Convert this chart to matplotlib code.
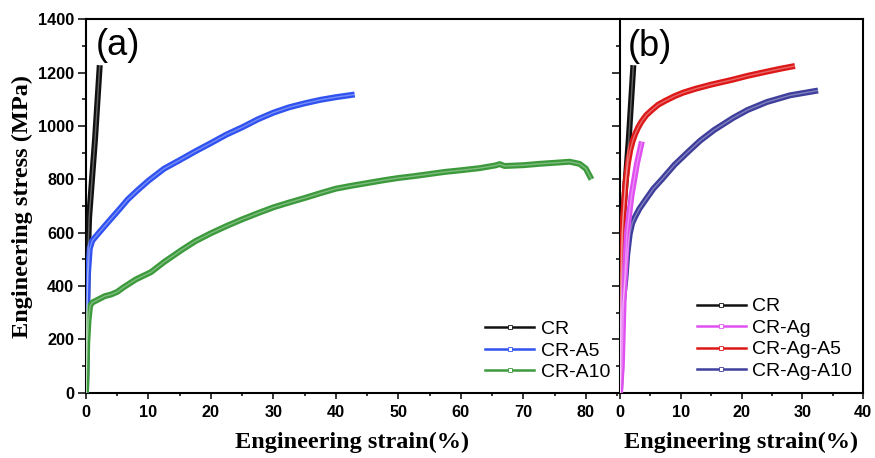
import matplotlib
matplotlib.use("Agg")
import matplotlib.pyplot as plt
from matplotlib.lines import Line2D
from matplotlib.ticker import MultipleLocator

# ---------------- data ----------------
cr_strain = [0, 0.15, 0.35, 0.5, 1.44, 2.2]
cr_stress = [0, 300, 550, 657, 949, 1228]

a5_strain = [0, 0.15, 0.3, 0.6, 1.0, 1.9, 3.0, 4.3, 5.5, 6.7, 8.3, 10, 12.5, 15, 17.5, 20,
             22.5, 25, 27.5, 30, 32.5, 35, 37.5, 40, 43]
a5_stress = [0, 300, 440, 540, 570, 595, 625, 660, 692, 725, 760, 795, 840, 872, 905, 936,
             968, 995, 1025, 1050, 1070, 1085, 1098, 1108, 1118]

a10_strain = [0, 0.2, 0.4, 0.65, 1.0, 2, 3, 4, 5, 6, 8, 10.4, 12.5, 15.3, 17.5, 20, 22.5, 25,
              27.5, 30, 32.5, 35, 37.5, 40, 42.5, 45, 47.5, 50, 52.5, 55, 57.5, 60, 63,
              65.5, 66.2, 67, 70, 72.5, 75, 77.4, 79, 80, 80.9]
a10_stress = [0, 187, 270, 325, 338, 350, 362, 368, 378, 395, 425, 452, 490, 535, 568, 598,
              625, 650, 673, 695, 713, 730, 748, 765, 776, 786, 796, 805, 812, 820, 828,
              834, 842, 852, 857, 850, 853, 858, 862, 866, 858, 840, 800]

ag_strain = [0, 0.3, 0.6, 1.15, 1.9, 2.8, 3.6]
ag_stress = [0, 100, 350, 600, 740, 860, 942]

aga5_strain = [0, 0.05, 0.1, 0.33, 0.9, 1.3, 1.7, 2.1, 2.5, 3.0, 3.5, 4.3, 5.3, 6.3, 7.5, 9,
               10.4, 12.5, 15, 18.6, 21, 24.2, 26.5, 28.8]
aga5_stress = [0, 200, 410, 600, 786, 860, 911, 945, 970, 995, 1015, 1040, 1061, 1080, 1095,
               1112, 1125, 1140, 1155, 1174, 1188, 1204, 1215, 1225]

aga10_strain = [0, 0.1, 0.3, 0.9, 1.2, 1.6, 2.0, 2.5, 3.2, 4.2, 5.5, 6.9, 9, 11.3, 13.2, 15.5,
                18.6, 21, 24.2, 28, 32.6]
aga10_stress = [0, 100, 300, 430, 520, 595, 635, 660, 690, 723, 765, 800, 855, 905, 945, 985,
                1030, 1060, 1090, 1115, 1133]

labels_a = ["CR", "CR-A5", "CR-A10"]
labels_b = ["CR", "CR-Ag", "CR-Ag-A5", "CR-Ag-A10"]

C_CR = "#111111"
C_A5 = "#2f52f0"
C_A10 = "#3c9a3c"
C_AG = "#e050f0"
C_AGA5 = "#dd1818"
C_AGA10 = "#3e3e9c"

# ---------------- figure ----------------
fig = plt.figure(figsize=(8.75, 4.58), dpi=100)
axa = fig.add_axes([86/875, 1-392.7/458, 533/875, 373.4/458])
axb = fig.add_axes([620/875, 1-392.7/458, 243/875, 373.4/458])

tickfont = dict(family="Liberation Sans", weight="bold", size=11.7)
labfont = dict(family="Liberation Serif", weight="bold", size=17.5)


def curve(ax, x, y, c):
    ax.plot(x, y, color=c, lw=4.3, solid_capstyle="butt", solid_joinstyle="round", zorder=3)
    ax.plot(x, y, color="white", lw=1.0, alpha=0.35, zorder=4)


for ax in (axa, axb):
    ax.set_ylim(0, 1400)
    ax.yaxis.set_major_locator(MultipleLocator(200))
    ax.yaxis.set_minor_locator(MultipleLocator(100))
    ax.xaxis.set_major_locator(MultipleLocator(10))
    ax.xaxis.set_minor_locator(MultipleLocator(5))
    ax.tick_params(axis="both", which="both", direction="out", width=1.1,
                   top=False, right=False)
    ax.tick_params(axis="y", which="major", length=5.5, pad=3)
    ax.tick_params(axis="y", which="minor", length=3)
    ax.tick_params(axis="x", which="major", length=4, pad=5)
    ax.tick_params(axis="x", which="minor", length=2.5)
    for s in ax.spines.values():
        s.set_linewidth(1.5)

# panel (a)
axa.set_xlim(0, 85.3)
curve(axa, cr_strain, cr_stress, C_CR)
curve(axa, a5_strain, a5_stress, C_A5)
curve(axa, a10_strain, a10_stress, C_A10)
axa.spines["right"].set_visible(False)
axa.set_xticks(range(0, 90, 10))
axa.set_xticklabels([str(v) for v in range(0, 90, 10)], **tickfont)
axa.set_yticks(range(0, 1600, 200))
axa.set_yticklabels([str(v) for v in range(0, 1600, 200)], **tickfont)
axa.set_xlabel("Engineering strain(%)", **labfont)
axa.xaxis.set_label_coords(0.5, -0.105)
axa.set_ylabel("Engineering stress (MPa)", **labfont)
axa.yaxis.set_label_coords(-0.10, 0.5)
axa.text(0.06, 0.93, "(a)", transform=axa.transAxes, ha="center", va="center",
         family="Liberation Sans", size=26)

ha = [Line2D([], [], color=c, lw=1.8, marker="s", markersize=3,
             markerfacecolor="white", markeredgecolor=c, markeredgewidth=0.6)
      for c in (C_CR, C_A5, C_A10)]
axa.legend(ha, labels_a, loc="center left", bbox_to_anchor=(0.749, 0.112),
           frameon=False, prop=dict(family="Liberation Sans", size=14),
           handlelength=2.5, handletextpad=0.35, labelspacing=0.2,
           borderpad=0, borderaxespad=0)

# panel (b)
axb.set_xlim(0, 40)
curve(axb, cr_strain, cr_stress, C_CR)
curve(axb, aga10_strain, aga10_stress, C_AGA10)
curve(axb, aga5_strain, aga5_stress, C_AGA5)
curve(axb, ag_strain, ag_stress, C_AG)
axb.set_xticks(range(0, 50, 10))
axb.set_xticklabels([str(v) for v in range(0, 50, 10)], **tickfont)
axb.tick_params(axis="y", which="both", labelleft=False)
axb.set_xlabel("Engineering strain(%)", **labfont)
axb.xaxis.set_label_coords(0.5, -0.105)
axb.text(0.123, 0.926, "(b)", transform=axb.transAxes, ha="center", va="center",
         family="Liberation Sans", size=26)

hb = [Line2D([], [], color=c, lw=1.8, marker="s", markersize=3,
             markerfacecolor="white", markeredgecolor=c, markeredgewidth=0.6)
      for c in (C_CR, C_AG, C_AGA5, C_AGA10)]
axb.legend(hb, labels_b, loc="center left", bbox_to_anchor=(0.317, 0.144),
           frameon=False, prop=dict(family="Liberation Sans", size=14),
           handlelength=2.5, handletextpad=0.35, labelspacing=0.2,
           borderpad=0, borderaxespad=0)

fig.savefig("out.png", dpi=100)
